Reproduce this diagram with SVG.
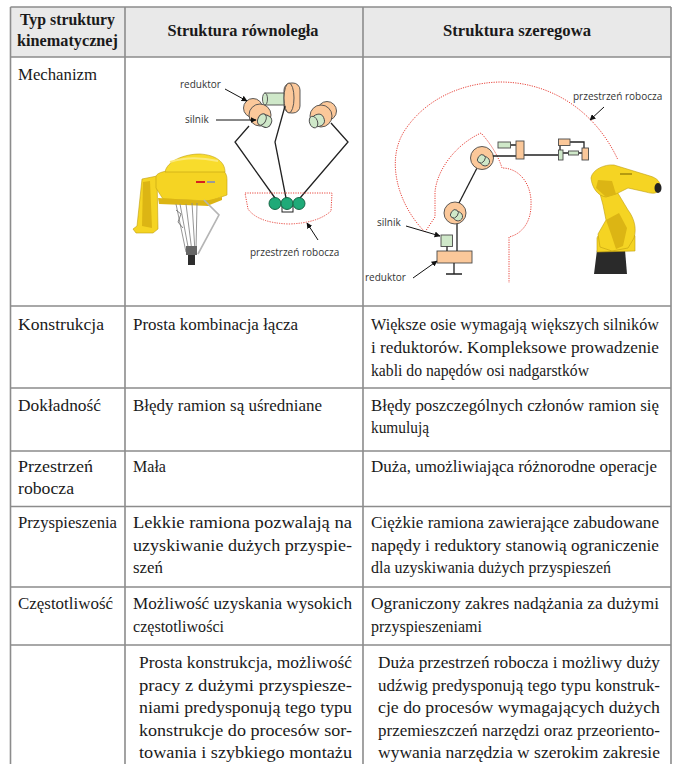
<svg xmlns="http://www.w3.org/2000/svg" width="678" height="764" viewBox="0 0 678 764">
<defs>
<style>
.t{font-family:'Liberation Serif','Times New Roman',serif;font-size:17.5px;fill:#1a1a1a}
.h{font-family:'Liberation Serif','Times New Roman',serif;font-size:16.5px;font-weight:bold;fill:#1a1a1a}
.lbl{font-family:'Open Sans','DejaVu Sans',sans-serif;font-size:10px;fill:#333}
.grid{stroke:#8c8c8c;stroke-width:1.6;fill:none}
.or{fill:#fbc89a;stroke:#4a4a4a;stroke-width:0.9}
.gr{fill:#cfe8c9;stroke:#4a4a4a;stroke-width:0.9}
.ball{fill:#1faa78;stroke:#0c5a3a;stroke-width:0.9}
.lnk{stroke:#222;stroke-width:1.3;fill:none}
.ws{fill:none;stroke:#e8453c;stroke-width:1;stroke-dasharray:1.2 1.2}
.arr{stroke:#111;stroke-width:1;fill:none;marker-end:url(#ah)}
.yl{fill:#f5d423;stroke:#c09e10;stroke-width:0.6}
.yd{fill:#dcb514}
.rod{stroke:#8a8a8a;stroke-width:0.9;fill:none}
</style>
<marker id="ah" viewBox="0 0 10 10" refX="9" refY="5" markerWidth="6" markerHeight="6" markerUnits="userSpaceOnUse" orient="auto"><path d="M0,0 L10,5 L0,10 Z" fill="#111"/></marker>
</defs>
<rect width="678" height="764" fill="#fff"/>

<g id="table-grid">
<rect x="10.5" y="7" width="660.5" height="50" fill="#e9e9e9"/>
<path class="grid" d="M10.5,7 H671 M10.5,57 H671 M10.5,306 H671 M10.5,388 H671 M10.5,451 H671 M10.5,506.5 H671 M10.5,587 H671 M10.5,645 H671"/>
<path class="grid" d="M10.5,7 V764 M125,7 V764 M363,7 V764 M671,7 V764"/>
</g>

<g id="header">
<text class="h" x="67.5" y="25" text-anchor="middle" textLength="95" lengthAdjust="spacingAndGlyphs">Typ struktury</text>
<text class="h" x="67.5" y="46" text-anchor="middle" textLength="101" lengthAdjust="spacingAndGlyphs">kinematycznej</text>
<text class="h" x="243" y="36" text-anchor="middle" textLength="151" lengthAdjust="spacingAndGlyphs">Struktura równoległa</text>
<text class="h" x="517" y="36" text-anchor="middle" textLength="148" lengthAdjust="spacingAndGlyphs">Struktura szeregowa</text>
</g>

<g id="row-mechanizm">
<text class="t" x="18" y="80" textLength="79" lengthAdjust="spacingAndGlyphs">Mechanizm</text>
</g>

<g id="mechanism-parallel">
<g id="photo-delta">
<path class="yl" d="M142,179 L157,176 L158,229 L153,233 L136,233 L133,229 L137,226 Z"/>
<path class="yd" d="M143,182 L150,181 L152,228 L142,226 Z"/>
<path class="yl" d="M156,176 C158,172 166,171 170,171 L222,170 C226,172 227,176 227,180 L227,195 L210,201 L163,199 L156,188 Z"/>
<path d="M165,172 C167,161 184,154 200,154 C216,155 225,162 225,172 Z" fill="#f8dc2c" stroke="#c09e10" stroke-width="0.6"/>
<path d="M170,162 C182,158 200,157 218,161" stroke="#fbe97a" stroke-width="2" fill="none"/>
<path class="yd" d="M158,198 L210,201 L209,206 L159,204 Z"/>
<path class="yd" d="M205,201 L222,197 L222,200 L207,206 Z"/>
<rect x="196" y="181" width="9" height="2" fill="#d62020"/>
<rect x="207" y="181" width="8" height="2" fill="#9a9a9a"/>
<path class="rod" d="M176,204 L186,252 M180,204 L189,252 M186,204 L192,252 M192,203 L195,252 M197,203 L196,250"/>
<path d="M204,200 L219,215 L198,254" stroke="#b5b5b5" stroke-width="1.6" fill="none"/>
<path d="M176,210 L181,214 L178,222 L183,228" stroke="#666" stroke-width="0.8" fill="none"/>
<rect x="186" y="246" width="11" height="9" fill="#666"/>
<rect x="188" y="255" width="7" height="10" fill="#2d2d2d"/>
</g>
<g id="motors-parallel">
<circle class="or" cx="253" cy="108" r="9.5"/>
<circle class="or" cx="260" cy="115" r="11"/>
<g transform="translate(261,119) rotate(25)"><rect class="gr" x="-1" y="-6" width="12" height="12" rx="5"/><ellipse class="gr" cx="1" cy="0" rx="4" ry="6"/></g>
<rect class="gr" x="265" y="93" width="21" height="12"/>
<ellipse class="gr" cx="265" cy="99" rx="2.5" ry="6"/>
<rect class="or" x="284" y="83" width="16" height="30" rx="7"/>
<ellipse class="or" cx="289" cy="98" rx="5" ry="15"/>
<circle class="or" cx="327" cy="111" r="9.5"/>
<circle class="or" cx="321" cy="116" r="11"/>
<g transform="translate(322,119) rotate(160)"><rect class="gr" x="-2" y="-6" width="12" height="12" rx="5"/><ellipse class="gr" cx="9" cy="0" rx="4" ry="6"/></g>
</g>
<path class="lnk" d="M249,126 L235,142 L275,198"/>
<path class="lnk" d="M285,106 L275,142 L286,198"/>
<path class="lnk" d="M331,123 L348,142 L300,198"/>
<rect x="282" y="206" width="11" height="6" fill="#fff" stroke="#222" stroke-width="1"/>
<circle class="ball" cx="275" cy="203.5" r="6"/>
<circle class="ball" cx="287" cy="203.5" r="6"/>
<circle class="ball" cx="299" cy="203.5" r="6"/>
<path class="ws" d="M245,193 H332 L331,211 Q318,223 289,224 Q258,223 248,209 Z"/>
<text class="lbl" x="180" y="88">reduktor</text>
<text class="lbl" x="185" y="123">silnik</text>
<text class="lbl" x="250" y="256">przestrzeń robocza</text>
</g>

<g id="mechanism-serial">
<path class="ws" d="M425,232 C398,205 385,160 405,130 C425,100 460,83 500,82 C550,82 595,110 618,160"/>
<path class="ws" d="M425,232 L435,217 L435,192 C437,170 455,145 481,133 C492,145 499,158 502,168 C520,168 532,185 531,205 C531,222 522,234 509,237 L509,283"/>
<rect class="or" x="437" y="251" width="35" height="12"/>
<path class="lnk" d="M454,263 V274 M446,274 H462"/>
<rect class="gr" x="441" y="235" width="11.5" height="11.5"/>
<path class="lnk" d="M447,246.5 V251 M457,251 V223"/>
<circle class="or" cx="455" cy="213" r="11"/>
<g transform="translate(456,215) rotate(35)"><rect class="gr" x="-3" y="-4.5" width="10" height="9" rx="4.5"/><ellipse class="gr" cx="-2" cy="0" rx="3.5" ry="4.5"/></g>
<path class="lnk" d="M459,203 L477,168"/>
<circle class="or" cx="482" cy="158" r="11.5"/>
<g transform="translate(483,160) rotate(35)"><rect class="gr" x="-3" y="-4.5" width="10" height="9" rx="4.5"/><ellipse class="gr" cx="-2" cy="0" rx="3.5" ry="4.5"/></g>
<path class="lnk" d="M493,156 H516 M510.5,145 H516 M524,155 H558 M560,145.5 V150 M570,142 H584 V148 M563,153 H568.5 M578.5,153 H582"/>
<rect class="or" x="516" y="141" width="8" height="18"/>
<rect class="gr" x="498" y="142" width="12.5" height="6"/>
<rect class="gr" x="558.5" y="150" width="4.5" height="10"/>
<rect class="or" x="558.5" y="139" width="11.5" height="6.5"/>
<rect class="gr" x="568.5" y="151" width="10" height="4"/>
<rect class="or" x="582" y="148" width="6.5" height="12"/>
<g id="photo-arm">
<path d="M597,250 L625,250 L627,274 L594,274 Z" fill="#2a2a2a"/>
<path class="yl" d="M597,238 C599,229 630,227 635,236 L635,251 L597,252 Z"/>
<path class="yl" d="M599,190 C603,184 612,184 616,190 L628,210 C634,218 637,228 634,238 L628,248 L612,251 L600,247 L598,234 L606,220 L603,205 Z"/>
<path class="yd" d="M606,220 L619,213 L627,228 L623,246 L616,249 L611,234 Z"/>
<path class="yl" d="M591,178 C592,170 604,164 614,165 L650,176 C657,178 661,182 660,188 C659,194 652,194 646,192 L628,188 L616,194 L606,197 C598,196 592,188 591,178 Z"/>
<path class="yd" d="M596,188 L606,197 L616,194 L612,181 L598,180 Z"/>
<ellipse cx="658" cy="188" rx="3.5" ry="5" fill="#222"/>
<rect x="620" y="173" width="12" height="2" fill="#b59a10"/>
</g>
<text class="lbl" x="573" y="100">przestrzeń robocza</text>
<text class="lbl" x="377" y="226">silnik</text>
<text class="lbl" x="365" y="281">reduktor</text>
</g>

<g id="connectors">
<path class="arr" d="M225,89 L247,101"/>
<path class="arr" d="M216,120 L256,120"/>
<path class="arr" d="M318,240 L307,223"/>
<path class="arr" d="M604,107 L590,120"/>
<path class="arr" d="M406,226 L440,236"/>
<path class="arr" d="M413,278 L437,261"/>
</g>

<g id="row-konstrukcja">
<text class="t" x="18" y="330" textLength="86" lengthAdjust="spacingAndGlyphs">Konstrukcja</text>
<text class="t" x="133" y="330" textLength="165" lengthAdjust="spacingAndGlyphs">Prosta kombinacja łącza</text>
<text class="t" x="371" y="330" textLength="288" lengthAdjust="spacingAndGlyphs">Większe osie wymagają większych silników</text>
<text class="t" x="371" y="353" textLength="288" lengthAdjust="spacingAndGlyphs">i reduktorów. Kompleksowe prowadzenie</text>
<text class="t" x="371" y="376" textLength="218" lengthAdjust="spacingAndGlyphs">kabli do napędów osi nadgarstków</text>
</g>

<g id="row-dokladnosc">
<text class="t" x="18" y="411" textLength="83" lengthAdjust="spacingAndGlyphs">Dokładność</text>
<text class="t" x="133" y="411" textLength="189" lengthAdjust="spacingAndGlyphs">Błędy ramion są uśredniane</text>
<text class="t" x="371" y="411" textLength="288" lengthAdjust="spacingAndGlyphs">Błędy poszczególnych członów ramion się</text>
<text class="t" x="371" y="433" textLength="58" lengthAdjust="spacingAndGlyphs">kumulują</text>
</g>

<g id="row-przestrzen">
<text class="t" x="18" y="472" textLength="75" lengthAdjust="spacingAndGlyphs">Przestrzeń</text>
<text class="t" x="18" y="494" textLength="56" lengthAdjust="spacingAndGlyphs">robocza</text>
<text class="t" x="133" y="472" textLength="33" lengthAdjust="spacingAndGlyphs">Mała</text>
<text class="t" x="371" y="472" textLength="286" lengthAdjust="spacingAndGlyphs">Duża, umożliwiająca różnorodne operacje</text>
</g>

<g id="row-przyspieszenia">
<text class="t" x="18" y="528" textLength="99" lengthAdjust="spacingAndGlyphs">Przyspieszenia</text>
<text class="t" x="133" y="528" textLength="219" lengthAdjust="spacingAndGlyphs">Lekkie ramiona pozwalają na</text>
<text class="t" x="133" y="551" textLength="219" lengthAdjust="spacingAndGlyphs">uzyskiwanie dużych przyspie-</text>
<text class="t" x="133" y="573" textLength="30" lengthAdjust="spacingAndGlyphs">szeń</text>
<text class="t" x="371" y="528" textLength="288" lengthAdjust="spacingAndGlyphs">Ciężkie ramiona zawierające zabudowane</text>
<text class="t" x="371" y="551" textLength="288" lengthAdjust="spacingAndGlyphs">napędy i reduktory stanowią ograniczenie</text>
<text class="t" x="371" y="573" textLength="240" lengthAdjust="spacingAndGlyphs">dla uzyskiwania dużych przyspieszeń</text>
</g>

<g id="row-czestotliwosc">
<text class="t" x="18" y="609" textLength="95" lengthAdjust="spacingAndGlyphs">Częstotliwość</text>
<text class="t" x="133" y="609" textLength="219" lengthAdjust="spacingAndGlyphs">Możliwość uzyskania wysokich</text>
<text class="t" x="133" y="632" textLength="91" lengthAdjust="spacingAndGlyphs">częstotliwości</text>
<text class="t" x="371" y="609" textLength="288" lengthAdjust="spacingAndGlyphs">Ograniczony zakres nadążania za dużymi</text>
<text class="t" x="371" y="632" textLength="111" lengthAdjust="spacingAndGlyphs">przyspieszeniami</text>
</g>

<g id="row-zastosowanie">
<text class="t" x="139" y="668" textLength="213" lengthAdjust="spacingAndGlyphs">Prosta konstrukcja, możliwość</text>
<text class="t" x="139" y="690.5" textLength="213" lengthAdjust="spacingAndGlyphs">pracy z dużymi przyspiesze-</text>
<text class="t" x="139" y="713" textLength="213" lengthAdjust="spacingAndGlyphs">niami predysponują tego typu</text>
<text class="t" x="139" y="735.5" textLength="213" lengthAdjust="spacingAndGlyphs">konstrukcje do procesów sor-</text>
<text class="t" x="139" y="758" textLength="213" lengthAdjust="spacingAndGlyphs">towania i szybkiego montażu</text>
<text class="t" x="378" y="668" textLength="282" lengthAdjust="spacingAndGlyphs">Duża przestrzeń robocza i możliwy duży</text>
<text class="t" x="378" y="690.5" textLength="282" lengthAdjust="spacingAndGlyphs">udźwig predysponują tego typu konstruk-</text>
<text class="t" x="378" y="713" textLength="282" lengthAdjust="spacingAndGlyphs">cje do procesów wymagających dużych</text>
<text class="t" x="378" y="735.5" textLength="282" lengthAdjust="spacingAndGlyphs">przemieszczeń narzędzi oraz przeoriento-</text>
<text class="t" x="378" y="758" textLength="282" lengthAdjust="spacingAndGlyphs">wywania narzędzia w szerokim zakresie</text>
</g>
</svg>
